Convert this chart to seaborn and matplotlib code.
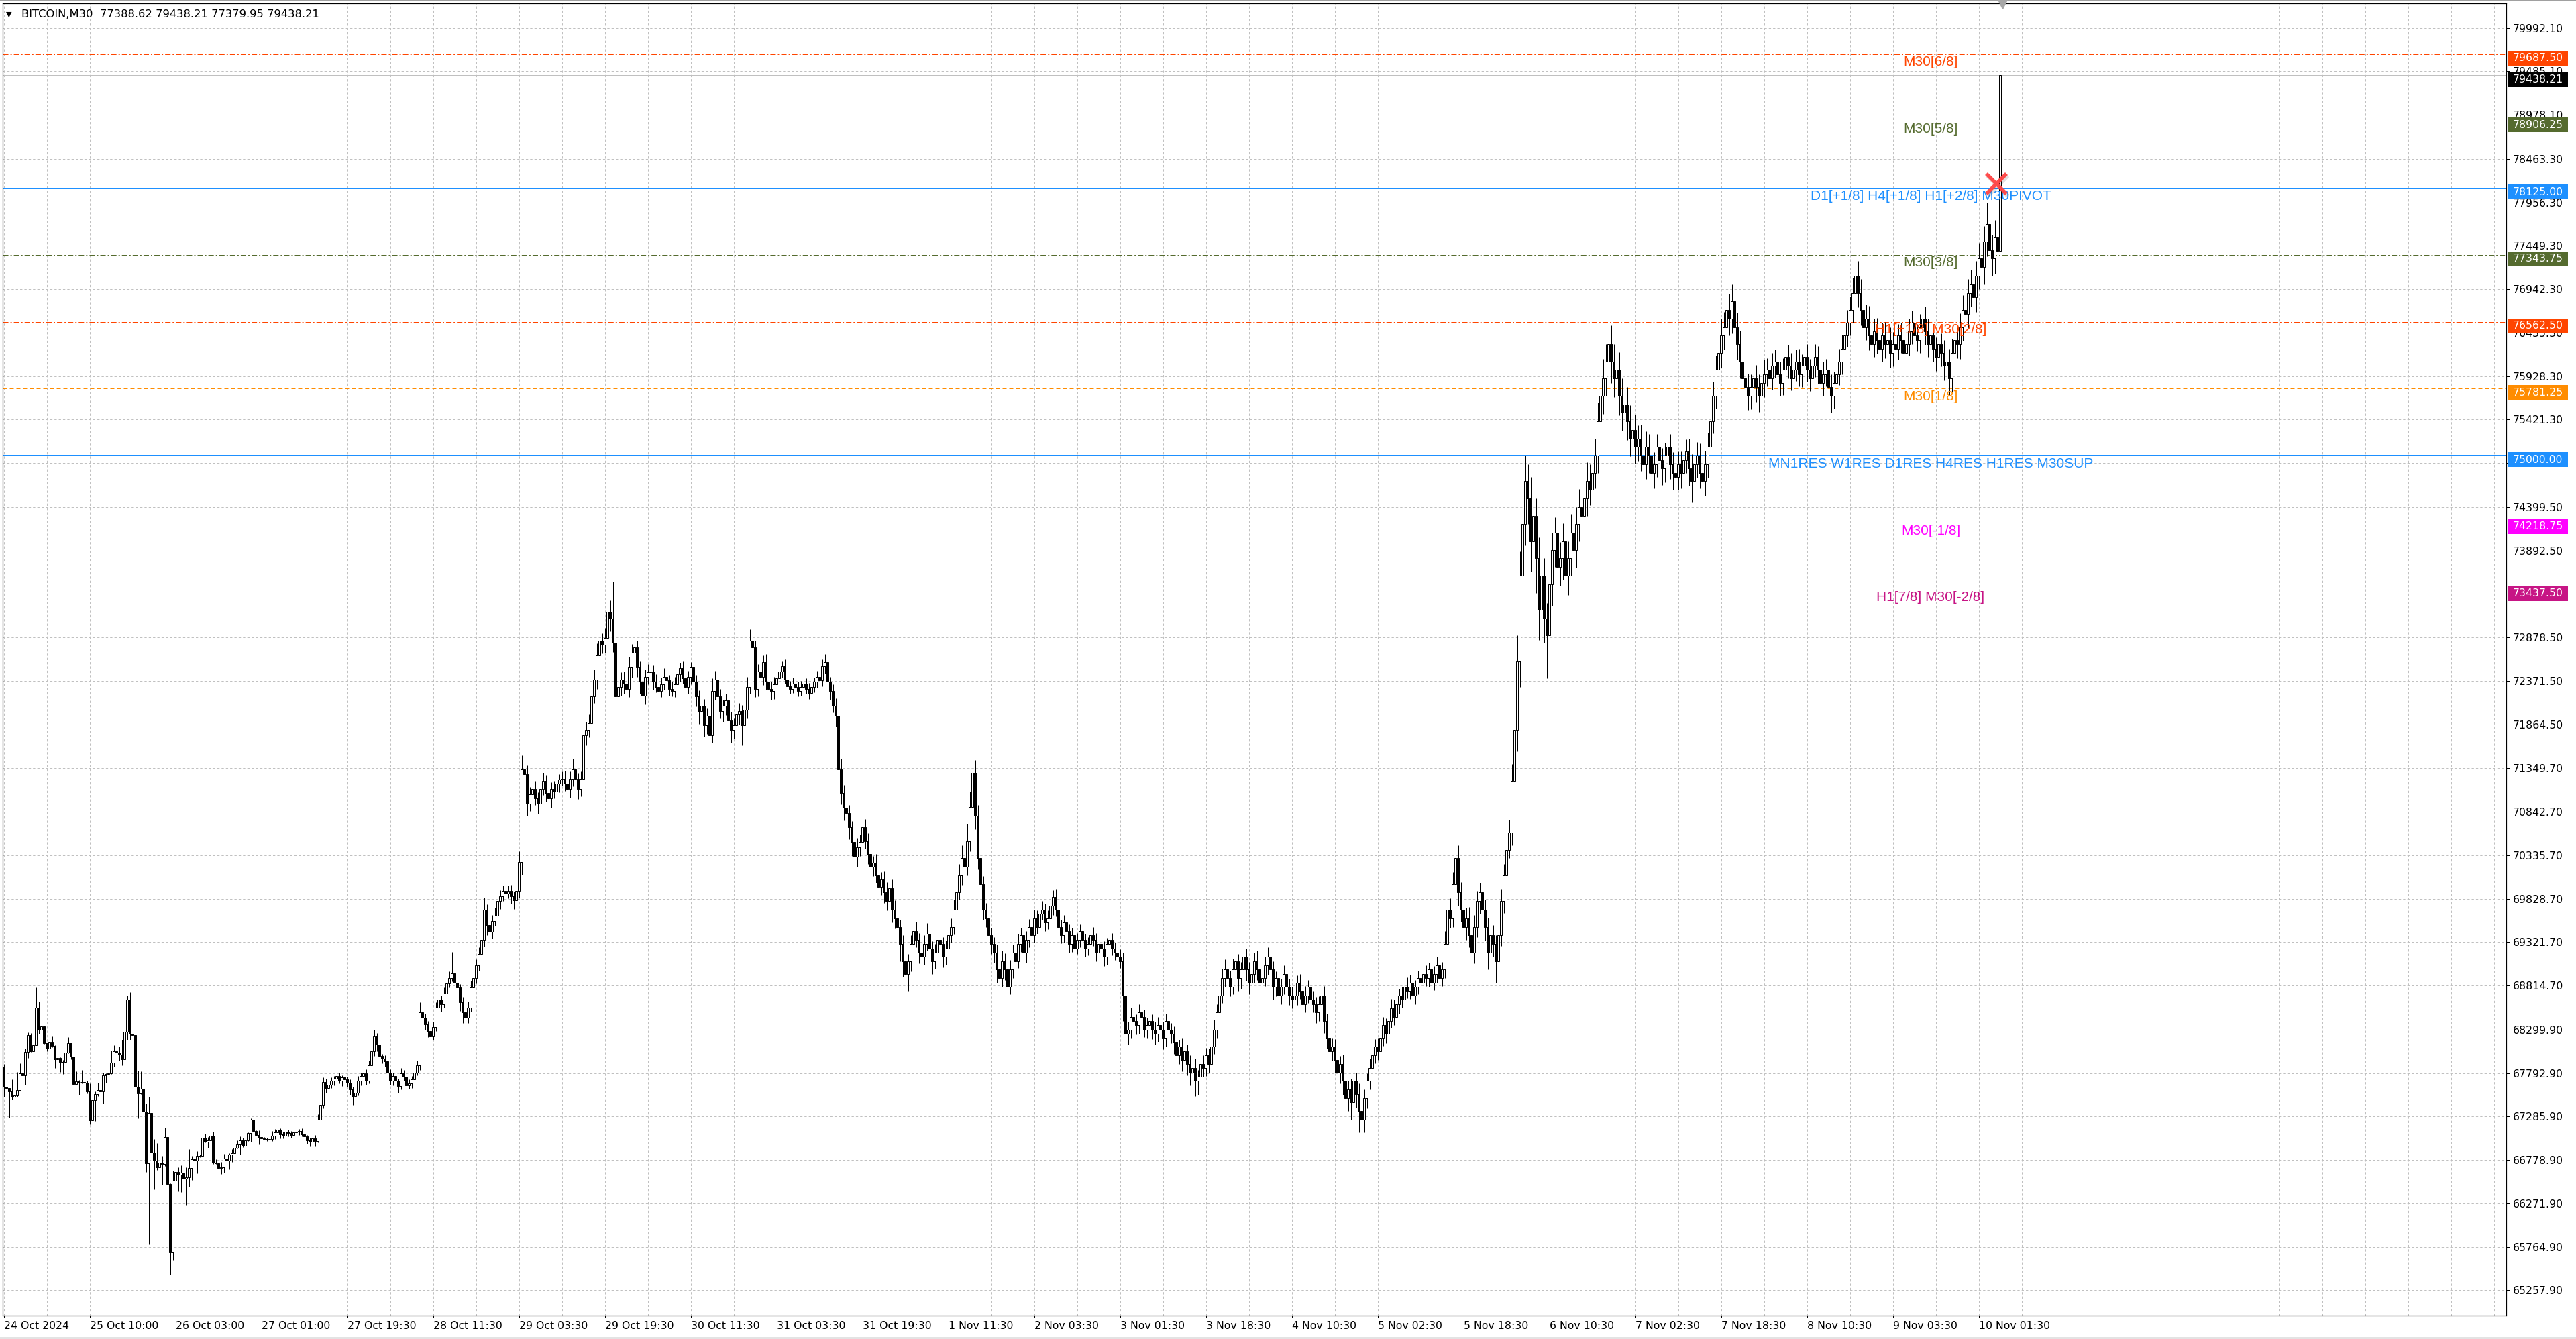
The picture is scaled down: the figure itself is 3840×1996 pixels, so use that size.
import numpy as np
import pandas as pd
import matplotlib
matplotlib.use("Agg")
import matplotlib.pyplot as plt
import matplotlib.transforms as mtransforms
from matplotlib.patches import Rectangle
from matplotlib.lines import Line2D
import seaborn as sns

sns.set_theme(style="white")
plt.rcParams['font.family'] = ['DejaVu Sans']
plt.rcParams['lines.scale_dashes'] = False

# ------------------------------
# DATA (BITCOIN M30, one value per bar)
# ------------------------------
first_open = 67868.0

closes = [
    67633, 67620, 67581, 67516, 67529, 67594, 67790, 67769, 68038, 68239, 68051, 68116, 68555, 68299, 68338, 68142,
    68077, 68150, 68108, 67952, 67967, 67925, 67920, 68033, 68142, 67986, 67665, 67693, 67690, 67685, 67680, 67576,
    67242, 67477, 67547, 67591, 67576, 67764, 67782, 67790, 67915, 68046, 68030, 68012, 67952, 68273, 68651, 68254,
    68239, 67633, 67555, 67607, 67346, 66741, 67325, 66863, 66772, 66694, 66746, 66733, 67046, 66498, 65702, 66537,
    66641, 66610, 66628, 66558, 66576, 66686, 66785, 66772, 66829, 66824, 67038, 66994, 67007, 67059, 66746, 66740,
    66688, 66694, 66798, 66772, 66845, 66855, 66923, 66960, 67007, 66942, 67007, 67090, 67247, 67116, 67072, 67046,
    67033, 67025, 67012,
    67020, 67060, 67100, 67130, 67080, 67060, 67110, 67090, 67070, 67100, 67110, 67120, 67080, 67050,
    67010, 66990, 67030, 67000, 67250, 67420, 67690, 67620, 67660, 67700, 67730, 67760, 67700, 67740, 67720, 67680,
    67600, 67520, 67560, 67700, 67760, 67790, 67700, 67880, 68050, 68220, 68130, 67990, 67960, 67930, 67800, 67700,
    67760, 67700, 67640, 67790, 67750, 67650, 67670, 67720, 67800, 67880, 68500, 68440, 68360, 68280, 68220, 68330,
    68560, 68650, 68600, 68720, 68840, 68900, 68960, 68850, 68790, 68620, 68500, 68440, 68560, 68790, 68900, 69050,
    69180, 69350, 69700, 69520, 69440, 69570, 69630, 69800, 69860, 69920, 69890, 69920, 69860, 69810, 69920, 70260,
    71340, 71280, 70940, 71050, 71110, 71000, 70940, 71110, 71200, 71060, 71000, 71110, 71080, 71170, 71220, 71230,
    71170, 71110, 71230, 71340, 71230, 71110, 71230, 71740, 71800, 71880, 72190, 72390, 72670, 72840, 72790, 72870,
    73180, 73100, 72820, 72190, 72300, 72390, 72340, 72280, 72530, 72700, 72760, 72530, 72360, 72200, 72420, 72470,
    72480, 72360, 72300, 72250, 72330, 72420, 72380, 72280, 72250, 72330, 72450, 72520, 72400, 72300, 72420, 72530,
    72360, 72190, 72020, 72080, 71850, 71960, 71740, 72250, 72390, 72190, 72020, 72080, 72140, 71910, 71800, 71850,
    71980, 72020, 71850, 72030, 72300, 72840, 72760, 72280, 72480, 72420, 72590, 72360, 72280, 72250, 72330, 72400,
    72480, 72540, 72390, 72310, 72280, 72340, 72300, 72250, 72300, 72340, 72280, 72230, 72300, 72360, 72420, 72380,
    72540, 72590, 72360, 72250, 72080, 71960, 71340, 71060, 70890, 70830, 70660, 70490, 70320, 70430, 70490, 70660,
    70500, 70350, 70200, 70250, 70100, 69970, 70050, 69900, 69800, 69950, 69700, 69600, 69500, 69300, 69100, 68950,
    69100, 69300, 69450, 69350, 69200, 69150, 69300, 69420, 69250, 69100, 69200, 69350, 69300, 69150, 69250, 69400,
    69500, 69700, 69900, 70100, 70300, 70200, 70500, 70900, 71300, 70800, 70300, 70000, 69700, 69600, 69400, 69300,
    69200, 69000, 68900, 69100, 69000, 68800, 69000, 69200, 69100, 69300, 69400, 69200, 69350, 69500, 69400, 69600,
    69500, 69650, 69700, 69550, 69600, 69750, 69850, 69700, 69500, 69400, 69550, 69450, 69300, 69400, 69250, 69350,
    69450, 69350, 69250, 69300, 69400, 69350, 69200, 69300, 69250, 69150, 69300, 69350, 69250, 69200, 69150, 69100,
    68700, 68250, 68300, 68450, 68400, 68350, 68500, 68450, 68300, 68350, 68400, 68300, 68250, 68350, 68300, 68200,
    68400, 68300, 68250, 68150, 68000, 68100, 67950, 68050, 67900, 67800, 67850, 67700, 67750, 67900, 67850, 68000,
    67900, 68100, 68300, 68500, 68700, 68900, 69000, 68900, 68800, 69000, 69100, 68900, 69000, 69150, 69000, 68850,
    68950, 69100, 69000, 68850, 68900, 69050, 69150, 69000, 68800, 68900, 68700, 68800, 68950, 68800, 68700, 68650,
    68700, 68850, 68750, 68600, 68700, 68800, 68650, 68600, 68500, 68600, 68700, 68400, 68200, 68050, 68100, 67950,
    67800, 67900, 67700, 67500, 67600, 67450, 67700, 67550, 67350, 67250, 67500, 67700, 67850, 68000, 68100, 68050,
    68200, 68350, 68250, 68400, 68550, 68450, 68600, 68700, 68650, 68800, 68750, 68850, 68700, 68800, 68900, 68850,
    68950, 68900, 69000, 68850, 68950, 69050, 68900, 69000, 69300, 69700, 69600, 70000, 70300, 69900, 69700, 69500,
    69600, 69400, 69200, 69500, 69800, 69900, 69700, 69500, 69200, 69400, 69300, 69100, 69400, 69800, 70100, 70400,
    70600, 71200, 71800, 72600, 73600, 74200, 74700, 74500, 74000, 74300, 73800, 73200, 73600, 73100, 72900, 73500,
    73900, 74100, 73700, 73800, 74000, 73600, 73800, 74100, 73900, 74200, 74400, 74300, 74500, 74700, 74600, 74800,
    75000, 75400, 75700, 75900, 76100, 76300, 76100, 75900, 76000, 75700, 75500, 75600, 75400, 75200, 75300, 75100,
    75200, 75000, 74900, 75100, 75000, 74800, 74900, 75100, 74950, 74850, 75000, 75100, 74900, 74800, 74750, 74900,
    74800, 74950, 75050, 74850, 74700, 74900, 75000, 74800, 74700, 74900, 75100, 75400, 75700, 76000, 76200, 76400,
    76500, 76700, 76600, 76800, 76500, 76300, 76100, 75900, 75800, 75700, 75800, 75900, 75800, 75700, 75850, 75950,
    76000, 75900, 76050, 76100, 75950, 75850, 76000, 76150, 76050, 75900, 76000, 76100, 75950, 76050, 76150, 76000,
    75900, 76050, 76150, 76000, 75850, 75950, 76000, 75800, 75700, 75850, 75950, 76100, 76250, 76400, 76550, 76700,
    76900, 77100, 76900, 76700, 76500, 76600, 76400, 76300, 76450, 76350, 76250, 76400, 76300, 76350, 76200, 76300,
    76250, 76400, 76350, 76200, 76300, 76450, 76550, 76400, 76350, 76500, 76600, 76450, 76300, 76400, 76250, 76150,
    76300, 76200, 76050, 76100, 75900, 76200, 76350, 76300, 76500, 76700, 76650, 76900, 77000, 76850, 77100, 77300,
    77200, 77500, 77700, 77400, 77300, 77550, 77388.62, 79438.21,
]

up_wick = [
    30, 260, 0, 140, 50, 210, 120, 80, 40, 30, 20, 70, 240, 70, 170, 0,
    0, 10, 70, 10, 10, 10, 20, 10, 70, 0, 10, 120, 20, 140, 100, 20,
    100, 0, 30, 90, 60, 30, 10, 70, 140, 70, 210, 70, 170, 100, 50, 90,
    240, 60, 190, 210, 160, 90, 190, 190, 160, 200, 70, 80, 110, 10, 10, 120,
    110, 50, 90, 60, 120, 220, 40, 60, 50, 10, 50, 50, 40, 60, 50, 40,
    50, 60, 50, 40, 10, 50, 20, 50, 50, 30, 30, 10, 20, 90, 10, 50,
    40, 10, 10,
    30, 60, 40, 50, 20, 30, 40, 20, 30, 40, 30, 20, 30, 20,
    20, 30, 20, 40, 60, 80, 50, 40, 30, 40, 30, 50, 40, 30, 40, 30,
    40, 30, 50, 60, 40, 30, 50, 60, 70, 80, 40, 50, 30, 40, 30, 40,
    40, 50, 30, 60, 40, 30, 50, 40, 50, 60, 120, 60, 50, 40, 30, 60,
    60, 80, 50, 70, 60, 80, 250, 60, 50, 40, 60, 40, 70, 80, 60, 70,
    80, 120, 140, 60, 80, 70, 90, 80, 70, 60, 50, 60, 70, 50, 60, 120,
    160, 90, 100, 80, 60, 90, 70, 80, 100, 70, 60, 80, 90, 70, 60, 80,
    90, 70, 80, 120, 70, 60, 80, 130, 90, 100, 120, 110, 140, 100, 90, 120,
    140, 130, 430, 90, 100, 80, 90, 110, 120, 100, 90, 80, 70, 90, 80, 100,
    80, 70, 90, 60, 80, 100, 70, 60, 80, 90, 70, 60, 80, 90, 70, 60,
    90, 80, 70, 100, 80, 90, 70, 150, 100, 80, 90, 70, 80, 90, 100, 80,
    80, 90, 70, 100, 120, 130, 100, 80, 90, 70, 80, 90, 70, 80, 90, 70,
    70, 60, 80, 50, 60, 70, 50, 60, 70, 50, 60, 70, 60, 50, 70, 60,
    80, 90, 70, 60, 80, 90, 60, 120, 100, 80, 90, 70, 80, 110, 90, 100,
    100, 90, 120, 80, 100, 110, 90, 100, 120, 90, 100, 110, 90, 80, 100, 120,
    80, 100, 90, 110, 80, 90, 100, 120, 90, 80, 100, 90, 110, 80, 90, 100,
    100, 120, 110, 130, 150, 120, 200, 180, 450, 150, 120, 100, 90, 80, 100, 90,
    80, 90, 100, 120, 90, 80, 110, 90, 100, 120, 90, 80, 100, 90, 80, 100,
    90, 80, 100, 70, 90, 110, 80, 90, 70, 80, 90, 100, 80, 90, 70, 80,
    80, 90, 70, 80, 90, 100, 80, 70, 90, 80, 70, 90, 80, 70, 80, 90,
    100, 80, 90, 110, 90, 80, 100, 90, 80, 90, 100, 80, 90, 100, 80, 90,
    90, 100, 80, 90, 110, 80, 100, 90, 80, 100, 90, 110, 80, 90, 100, 90,
    80, 100, 120, 100, 90, 110, 120, 100, 90, 130, 100, 80, 90, 110, 100, 90,
    90, 100, 120, 110, 90, 100, 110, 90, 100, 80, 110, 90, 100, 80, 90, 100,
    90, 80, 100, 90, 110, 80, 90, 100, 80, 90, 100, 110, 90, 80, 100, 90,
    100, 90, 110, 120, 100, 130, 110, 100, 120, 110, 100, 90, 110, 100, 90, 100,
    90, 100, 80, 90, 110, 100, 90, 80, 100, 90, 110, 90, 100, 80, 90, 100,
    90, 100, 80, 110, 90, 100, 80, 90, 150, 120, 130, 140, 200, 150, 120, 110,
    120, 130, 110, 140, 120, 110, 130, 120, 110, 130, 120, 100, 120, 140, 130, 120,
    150, 200, 250, 300, 280, 250, 300, 200, 250, 220, 200, 250, 220, 200, 180, 200,
    200, 180, 220, 190, 210, 180, 200, 220, 190, 200, 210, 180, 200, 220, 200, 190,
    200, 220, 250, 230, 200, 280, 220, 200, 190, 210, 200, 180, 200, 190, 200, 180,
    150, 160, 140, 180, 150, 160, 140, 150, 160, 140, 150, 170, 150, 140, 160, 150,
    150, 160, 140, 150, 170, 150, 160, 140, 150, 160, 170, 180, 160, 170, 180, 200,
    180, 220, 190, 200, 180, 170, 160, 180, 170, 160, 150, 170, 160, 150, 160, 170,
    140, 130, 150, 140, 130, 150, 140, 130, 140, 150, 130, 140, 150, 130, 140, 150,
    130, 140, 150, 130, 140, 150, 130, 140, 150, 130, 140, 150, 160, 170, 150, 160,
    180, 250, 170, 160, 150, 160, 150, 140, 150, 160, 140, 150, 160, 140, 150, 140,
    130, 140, 150, 130, 140, 150, 140, 130, 140, 150, 130, 140, 150, 130, 140, 130,
    140, 130, 150, 140, 150, 160, 140, 150, 160, 170, 150, 160, 170, 160, 170, 180,
    200, 180, 250, 200, 180, 200, 150, 0,
]

dn_wick = [
    120, 90, 310, 30, 120, 10, 10, 80, 110, 70, 10, 140, 0, 50, 30, 10,
    30, 50, 10, 100, 140, 120, 140, 20, 10, 30, 10, 10, 150, 10, 20, 20,
    50, 30, 240, 20, 50, 140, 80, 70, 10, 50, 10, 70, 70, 290, 90, 70,
    180, 260, 290, 10, 10, 100, 950, 10, 340, 30, 260, 240, 20, 30, 260, 90,
    150, 200, 210, 150, 300, 110, 140, 150, 150, 10, 10, 10, 70, 10, 10, 10,
    70, 70, 60, 100, 100, 90, 10, 10, 120, 10, 20, 10, 100, 30, 0, 90,
    40, 10, 10,
    30, 20, 40, 30, 50, 30, 20, 40, 30, 20, 30, 40, 30, 50,
    40, 50, 30, 60, 20, 30, 40, 60, 30, 40, 50, 40, 30, 60, 40, 50,
    60, 100, 40, 30, 50, 60, 40, 30, 50, 60, 80, 40, 50, 60, 50, 40,
    50, 60, 80, 40, 50, 70, 40, 50, 40, 30, 50, 80, 60, 70, 50, 40,
    50, 60, 90, 40, 60, 50, 40, 90, 80, 100, 120, 90, 60, 50, 70, 60,
    60, 90, 80, 120, 100, 80, 60, 70, 90, 60, 80, 60, 90, 100, 70, 80,
    150, 120, 140, 90, 100, 80, 120, 90, 70, 100, 90, 110, 80, 90, 100, 70,
    80, 120, 100, 90, 110, 120, 90, 100, 120, 90, 100, 80, 110, 120, 100, 90,
    120, 150, 110, 300, 130, 100, 120, 90, 100, 120, 150, 110, 140, 130, 100, 90,
    70, 90, 60, 80, 70, 60, 90, 80, 60, 70, 80, 90, 60, 70, 80, 90,
    100, 120, 150, 90, 130, 100, 340, 90, 100, 120, 90, 130, 110, 120, 150, 100,
    100, 120, 230, 90, 100, 80, 120, 100, 90, 120, 100, 90, 80, 100, 90, 80,
    60, 70, 50, 80, 60, 50, 70, 60, 50, 80, 60, 70, 50, 60, 70, 60,
    70, 80, 90, 100, 80, 120, 110, 130, 150, 120, 140, 160, 180, 120, 100, 90,
    90, 120, 100, 110, 90, 130, 100, 120, 110, 140, 150, 120, 100, 200, 180, 160,
    200, 120, 100, 90, 130, 100, 90, 80, 110, 150, 90, 80, 100, 120, 90, 80,
    80, 90, 100, 80, 110, 90, 100, 120, 150, 160, 130, 110, 120, 100, 90, 120,
    120, 150, 200, 100, 120, 180, 90, 100, 110, 80, 90, 100, 120, 90, 100, 80,
    80, 90, 70, 100, 80, 90, 110, 80, 100, 90, 80, 70, 100, 90, 80, 70,
    90, 70, 100, 80, 90, 70, 100, 90, 80, 110, 90, 70, 80, 90, 100, 80,
    300, 150, 120, 100, 90, 110, 100, 120, 90, 100, 80, 110, 120, 90, 100, 130,
    100, 120, 110, 130, 150, 100, 140, 110, 130, 150, 120, 180, 160, 120, 100, 90,
    100, 90, 80, 100, 120, 90, 100, 130, 110, 90, 100, 150, 120, 100, 130, 140,
    110, 100, 120, 130, 100, 90, 110, 120, 150, 110, 130, 100, 90, 120, 110, 100,
    100, 110, 90, 120, 100, 90, 110, 100, 120, 100, 90, 140, 120, 130, 110, 150,
    150, 130, 160, 180, 150, 200, 140, 160, 250, 300, 150, 120, 100, 110, 90, 100,
    100, 90, 110, 90, 80, 100, 90, 110, 90, 100, 80, 90, 110, 100, 90, 80,
    80, 90, 100, 80, 90, 100, 110, 90, 100, 120, 110, 100, 120, 150, 140, 130,
    150, 140, 200, 130, 120, 150, 140, 160, 200, 140, 150, 250, 130, 120, 140, 130,
    100, 150, 200, 250, 300, 220, 250, 300, 350, 280, 400, 350, 300, 280, 500, 250,
    250, 200, 280, 220, 250, 300, 230, 200, 240, 210, 200, 220, 190, 200, 180, 210,
    180, 200, 190, 210, 200, 180, 250, 220, 200, 230, 210, 200, 220, 210, 200, 190,
    160, 180, 150, 170, 200, 160, 180, 150, 170, 190, 160, 150, 170, 200, 160, 150,
    180, 160, 150, 200, 250, 170, 160, 180, 200, 170, 160, 150, 140, 150, 160, 170,
    160, 180, 200, 170, 190, 180, 200, 190, 180, 170, 160, 180, 170, 190, 160, 170,
    140, 150, 130, 140, 160, 150, 140, 130, 150, 140, 160, 130, 140, 150, 130, 140,
    150, 140, 130, 160, 170, 150, 140, 160, 200, 150, 140, 130, 150, 140, 130, 150,
    150, 160, 170, 180, 160, 150, 170, 160, 150, 160, 170, 150, 160, 150, 170, 160,
    140, 130, 150, 160, 140, 130, 150, 140, 130, 150, 140, 160, 150, 140, 150, 160,
    150, 160, 170, 250, 200, 160, 150, 160, 170, 160, 150, 170, 160, 180, 170, 160,
    180, 200, 170, 190, 200, 180, 150, 8.67,
]

# axis ticks
ytick_vals = [79992.10, 79485.10, 78978.10, 78463.30, 77956.30, 77449.30, 76942.30, 76435.30,
              75928.30, 75421.30, 74914.30, 74399.50, 73892.50, 73385.50, 72878.50, 72371.50,
              71864.50, 71349.70, 70842.70, 70335.70, 69828.70, 69321.70, 68814.70, 68299.90,
              67792.90, 67285.90, 66778.90, 66271.90, 65764.90, 65257.90]
xtick_labels = ["24 Oct 2024", "25 Oct 10:00", "26 Oct 03:00", "27 Oct 01:00", "27 Oct 19:30",
                "28 Oct 11:30", "29 Oct 03:30", "29 Oct 19:30", "30 Oct 11:30", "31 Oct 03:30",
                "31 Oct 19:30", "1 Nov 11:30", "2 Nov 03:30", "3 Nov 01:30", "3 Nov 18:30",
                "4 Nov 10:30", "5 Nov 02:30", "5 Nov 18:30", "6 Nov 10:30", "7 Nov 02:30",
                "7 Nov 18:30", "8 Nov 10:30", "9 Nov 03:30", "10 Nov 01:30"]
bars_per_label = 32

# Murrey math levels
level_prices = [79687.50, 78906.25, 78125.00, 77343.75, 76562.50, 75781.25, 75000.00, 74218.75, 73437.50]
level_names = ["M30[6/8]", "M30[5/8]", "D1[+1/8] H4[+1/8] H1[+2/8] M30PIVOT", "M30[3/8]",
               "H1[+1/8] M30[2/8]", "M30[1/8]", "MN1RES W1RES D1RES H4RES H1RES M30SUP",
               "M30[-1/8]", "H1[7/8] M30[-2/8]"]
level_colors = ["#FF4500", "#556B2F", "#1E90FF", "#556B2F", "#FF4500", "#FF8C00", "#1E90FF",
                "#FF00FF", "#C71585"]
level_styles = ["dashdot", "dashdot", "solid", "dashdot", "dashdot", "dash", "solid", "dashdot", "dashdot"]

bid_price = 79438.21
header = "BITCOIN,M30  77388.62 79438.21 77379.95 79438.21"
trade_mark = (742.6, 78174.0)

# ------------------------------
# BUILD OHLC
# ------------------------------
n = min(len(closes), len(up_wick), len(dn_wick))
c = np.array(closes[:n], dtype=float)
o = np.empty(n)
o[0] = first_open
o[1:] = c[:-1]
hi = np.maximum(o, c) + np.array(up_wick[:n], dtype=float)
lo = np.minimum(o, c) - np.array(dn_wick[:n], dtype=float)
df = pd.DataFrame({"bar": np.arange(n), "open": o, "high": hi, "low": lo, "close": c})

# ------------------------------
# FIGURE LAYOUT (pixels)
# ------------------------------
W, H = 3840, 1996
AX_L, AX_R, AX_T, AX_B = 4, 3736, 5, 1961
PX_PER_BAR = 4.0
YMIN, YMAX = 64963.0, 80279.0

fig = plt.figure(figsize=(W / 100, H / 100), dpi=100, facecolor="white")
ax = fig.add_axes([AX_L / W, 1 - AX_B / H, (AX_R - AX_L) / W, (AX_B - AX_T) / H])
ax.set_facecolor("white")
x0 = -0.4
ax.set_xlim(x0, x0 + (AX_R - AX_L) / PX_PER_BAR)
ax.set_ylim(YMIN, YMAX)

px = 0.72  # one pixel in points
grid_kw = dict(color="#C0C0C0", lw=px, ls=(0, (2.4, 2.2)), zorder=0)
for p in ytick_vals:
    ax.axhline(p, **grid_kw)
for b in range(0, int(x0 + (AX_R - AX_L) / PX_PER_BAR) + 1, 16):
    ax.axvline(b, **grid_kw)

dash_map = {"solid": "-", "dashdot": (0, (5.8, 2.2, 1.4, 2.2)), "dash": (0, (4.3, 2.9))}
for p, col, st in zip(level_prices, level_colors, level_styles):
    lw = 2 * px if p == 75000.0 else px
    ax.axhline(p, color=col, lw=lw, ls=dash_map[st], zorder=1)
ax.axhline(bid_price, color="#C0C0C0", lw=px, zorder=1)

# ------------------------------
# CANDLES
# ------------------------------
ax.vlines(df["bar"], df["low"], df["high"], color="black", lw=px, zorder=3)
bull = df["close"] >= df["open"]
body_lo = np.minimum(df["open"], df["close"])
body_h = (df["close"] - df["open"]).abs()
ax.bar(df["bar"][bull], body_h[bull], bottom=body_lo[bull], width=0.6,
       facecolor="white", edgecolor="black", linewidth=px, zorder=4)
ax.bar(df["bar"][~bull], body_h[~bull], bottom=body_lo[~bull], width=0.6,
       facecolor="black", edgecolor="black", linewidth=px, zorder=4)

# trade marker (with a soft shadow like the terminal draws it)
ax.plot([trade_mark[0] + 0.5], [trade_mark[1] - 25], marker="x", ms=21, mew=4.5, color="#000000",
        alpha=0.12, zorder=6, ls="none")
ax.plot([trade_mark[0]], [trade_mark[1]], marker="x", ms=21, mew=4.0, color="#FF4444",
        alpha=0.95, zorder=6, ls="none")

# level captions
blend = mtransforms.blended_transform_factory(ax.transAxes, ax.transData)
cap_x = (2878 - AX_L) / (AX_R - AX_L)
for p, name, col in zip(level_prices, level_names, level_colors):
    ax.text(cap_x, p - 20, name, transform=blend, ha="center", va="top", color=col,
            fontsize=15, family=["Liberation Sans", "DejaVu Sans"], zorder=5)

# ------------------------------
# AXES
# ------------------------------
for s in ax.spines.values():
    s.set_color("black")
    s.set_linewidth(1.2 * px)
    s.set_visible(True)

ax.yaxis.tick_right()
ax.set_yticks(ytick_vals)
ax.set_yticklabels([f"{v:.2f}" for v in ytick_vals])
ax.tick_params(axis="y", direction="out", length=5 * px, width=px, pad=5 * px,
               labelsize=11.3, colors="black", right=True, left=False)
for lab in ax.get_yticklabels():
    lab.set_horizontalalignment("left")

xt = [i * bars_per_label for i in range(len(xtick_labels))]
ax.set_xticks(xt)
ax.set_xticklabels(xtick_labels)
ax.tick_params(axis="x", direction="out", length=3 * px, width=px, pad=5 * px,
               labelsize=11.3, colors="black", bottom=True)
for lab in ax.get_xticklabels():
    lab.set_horizontalalignment("left")

# right-hand price tags
def fig_y(price):
    return (1 - AX_B / H) + (price - YMIN) / (YMAX - YMIN) * ((AX_B - AX_T) / H)

tag_prices = level_prices + [bid_price]
tag_colors = level_colors + ["black"]
for p, col in zip(tag_prices, tag_colors):
    yc = fig_y(p) - 6 / H
    fig.add_artist(Rectangle((3739 / W, yc - 11 / H), 89 / W, 22 / H, facecolor=col,
                             edgecolor="none", transform=fig.transFigure, zorder=5))
    fig.text(3746 / W, yc, f"{p:.2f}", color="white", fontsize=11.3, ha="left", va="center",
             zorder=6)

# header and frame decorations
fig.text(9 / W, 1 - 22 / H, "\u25bc", fontsize=8, ha="left", va="center", color="black")
fig.text(32 / W, 1 - 22 / H, header, fontsize=11.8, ha="left", va="center", color="black")
fig.add_artist(Line2D([2985 / W], [1 - 5 / H], marker="v", ms=12, color="#A8A8A8",
                      transform=fig.transFigure, ls="none"))
fig.add_artist(Rectangle((0, 1 - 2 / H), 1, 2 / H, facecolor="#A0A0A0", edgecolor="none",
                         transform=fig.transFigure))
fig.add_artist(Rectangle((0, 0), 1, 3 / H, facecolor="#E3E3E3", edgecolor="none",
                         transform=fig.transFigure))

fig.savefig("out.png", dpi=100, facecolor="white")
